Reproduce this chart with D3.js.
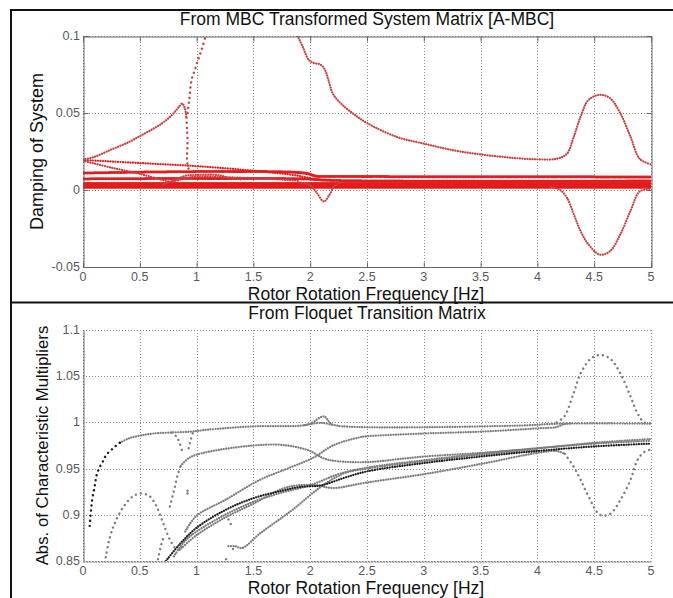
<!DOCTYPE html>
<html>
<head>
<meta charset="utf-8">
<script src="https://cdn.jsdelivr.net/npm/d3@7"></script>
<style>
  body { margin: 0; background: #fff; }
  text { font-family: "Liberation Sans", Arial, sans-serif; }
</style>
</head>
<body>
<script>
// ---- shared axis data ----
const xTicks = [0, 0.5, 1, 1.5, 2, 2.5, 3, 3.5, 4, 4.5, 5];
const xTickLabels = ["0", "0.5", "1", "1.5", "2", "2.5", "3", "3.5", "4", "4.5", "5"];
const yTicksTop = [-0.05, 0, 0.05, 0.1];
const yTickLabelsTop = ["-0.05", "0", "0.05", "0.1"];
const yTicksBottom = [0.85, 0.9, 0.95, 1, 1.05, 1.1];
const yTickLabelsBottom = ["0.85", "0.9", "0.95", "1", "1.05", "1.1"];

// ---- top panel: damping of system, [Hz, damping] ----
const dampRise = [[0, 0.0197], [0.1, 0.0215], [0.24, 0.026], [0.4, 0.031], [0.5, 0.035], [0.6, 0.039], [0.7, 0.0435], [0.75, 0.0465], [0.8, 0.05], [0.85, 0.0545], [0.872, 0.0562], [0.897, 0.053], [0.91, 0.047]];
const dampDrop = [[0.91, 0.047], [0.915, 0.04], [0.92, 0.03], [0.915, 0.02], [0.93, 0.013]];
const dampBranch = [[0.92, 0.05], [0.935, 0.0585], [0.956, 0.0716], [0.985, 0.078], [1.015, 0.085], [1.044, 0.091], [1.08, 0.1], [1.1, 0.104]];
const dampDecay = [[1.85, 0.106], [1.89, 0.1], [1.94, 0.092], [1.985, 0.0847], [2.03, 0.0825], [2.09, 0.0815], [2.13, 0.078], [2.16, 0.0716], [2.2, 0.0625], [2.28, 0.0555], [2.38, 0.0495], [2.5, 0.0435], [2.76, 0.0345], [3, 0.0301], [3.26, 0.0258], [3.5, 0.0231], [3.76, 0.021], [4, 0.0199], [4.17, 0.0203], [4.26, 0.0236], [4.32, 0.0345], [4.38, 0.0476], [4.45, 0.0585], [4.55, 0.0618], [4.64, 0.0596], [4.73, 0.0498], [4.82, 0.0345], [4.9, 0.0203], [5, 0.0166]];
const dampNeg = [[4.12, 0.002], [4.2, 0.0], [4.26, -0.005], [4.32, -0.0157], [4.38, -0.0266], [4.45, -0.0354], [4.55, -0.042], [4.64, -0.0397], [4.73, -0.0288], [4.82, -0.0135], [4.9, -0.001], [5, 0.0007]];
const dampFlat1 = [[0, 0.011], [1.95, 0.011], [2.05, 0.009], [2.25, 0.0088], [5, 0.0085]];
const dampFlat2 = [[0, 0.0072], [1.95, 0.0072], [2.2, 0.0062], [5, 0.0058]];
const dampFlat3 = [[0, 0.0042], [5, 0.0042]];
const dampFlat4 = [[0, 0.0029], [5, 0.0029]];
const dampFlat5 = [[0, 0.0018], [5, 0.0018]];
const dampDiag1 = [[0, 0.0195], [0.5, 0.0175], [1, 0.0155], [1.5, 0.0125], [1.9, 0.0092], [2.05, 0.0065]];
const dampDiag2 = [[0, 0.019], [0.25, 0.0145], [0.5, 0.0105], [0.7, 0.0065], [0.78, 0.0055], [0.9, 0.0075], [1.0, 0.0088], [1.3, 0.0082], [1.6, 0.0074], [1.9, 0.006]];
const dampDiag3 = [[0.7, 0.0035], [0.8, 0.0062], [0.9, 0.0092], [1.0, 0.0098], [1.2, 0.0096], [1.3, 0.0075], [1.4, 0.0068]];
const dampDip = [[1.9, 0.005], [2.0, 0.003], [2.06, -0.002], [2.12, -0.0075], [2.17, -0.003], [2.22, 0.003], [2.28, 0.005]];

// ---- bottom panel: abs. of characteristic multipliers, [Hz, |mult|] ----
const absStart = [[0.059, 0.888], [0.079, 0.915], [0.103, 0.931], [0.118, 0.942], [0.141, 0.95], [0.176, 0.958], [0.206, 0.965], [0.265, 0.972], [0.324, 0.978]];
const absMain = [[0.324, 0.978], [0.41, 0.983], [0.5, 0.9856], [0.62, 0.988], [0.765, 0.989], [0.95, 0.99], [1.09, 0.992], [1.5, 0.9957], [1.91, 0.9964], [2.0, 0.9986], [2.12, 1.0065], [2.18, 0.999], [2.24, 0.9964], [3.8, 0.9964], [4.2, 0.9986], [5, 0.9986]];
const absBumpBase = [[1.95, 0.997], [2.1, 0.9995], [2.2, 0.997]];
const absHighStart = [[0.765, 0.909], [0.79, 0.921], [0.81, 0.931], [0.835, 0.944], [0.86, 0.953]];
const absHigh = [[0.86, 0.953], [0.926, 0.961], [1, 0.965], [1.206, 0.9705], [1.5, 0.975], [1.706, 0.976], [1.85, 0.974], [2, 0.969], [2.12, 0.961], [2.24, 0.958], [2.5, 0.957], [2.76, 0.96], [3, 0.963], [3.5, 0.967], [4, 0.972], [4.5, 0.978], [5, 0.982]];
const absCross = [[0.9, 0.882], [1, 0.899], [1.25, 0.916], [1.56, 0.938], [1.8, 0.95], [2.03, 0.962], [2.2, 0.975], [2.44, 0.984], [2.5, 0.985], [3, 0.988], [3.5, 0.99], [4, 0.9935], [4.17, 0.995], [4.23, 0.998], [4.3, 0.999]];
const absBundle1 = [[0.73, 0.85], [0.85, 0.868], [1, 0.886], [1.25, 0.905], [1.5, 0.918], [1.75, 0.926], [1.9, 0.93], [2.1, 0.932], [2.3, 0.94], [2.5, 0.947], [3, 0.956], [3.5, 0.963], [4, 0.969], [4.5, 0.974], [5, 0.977]];
const absBundle2 = [[0.8, 0.855], [0.9, 0.872], [1, 0.882], [1.25, 0.9], [1.5, 0.914], [1.75, 0.924], [2, 0.932], [2.25, 0.944], [2.5, 0.951], [3, 0.959], [3.5, 0.966], [4, 0.972], [4.5, 0.977], [5, 0.98]];
const absBundle3 = [[0.85, 0.862], [1, 0.878], [1.25, 0.897], [1.5, 0.912], [1.75, 0.928], [1.9, 0.932], [2.05, 0.932], [2.2, 0.929], [2.5, 0.935], [3, 0.944], [3.5, 0.955], [4, 0.967], [4.17, 0.969], [4.24, 0.966]];
const absDip = [[4.24, 0.966], [4.32, 0.952], [4.38, 0.938], [4.45, 0.92], [4.55, 0.9], [4.64, 0.901], [4.73, 0.916], [4.82, 0.938], [4.88, 0.959], [4.94, 0.968], [5, 0.9705]];
const absLow = [[1.28, 0.866], [1.34, 0.866], [1.4, 0.864], [1.56, 0.88], [1.85, 0.906], [2.09, 0.93], [2.3, 0.945], [2.5, 0.95], [3, 0.958], [3.5, 0.965], [4, 0.97]];
const absHump = [[0.2, 0.854], [0.235, 0.875], [0.28, 0.891], [0.353, 0.908], [0.44, 0.92], [0.515, 0.923], [0.588, 0.92], [0.647, 0.909], [0.706, 0.891], [0.765, 0.873], [0.82, 0.863], [0.85, 0.862]];
const absHumpLeg = [[0.66, 0.852], [0.69, 0.868], [0.71, 0.876]];
const absDrop = [[0.78, 0.989], [0.82, 0.985], [0.85, 0.978], [0.87, 0.97]];
const absRiseBack = [[0.93, 0.972], [0.95, 0.982], [0.97, 0.99]];
const absPeak = [[4.17, 1.0], [4.24, 1.007], [4.32, 1.032], [4.38, 1.053], [4.47, 1.069], [4.55, 1.073], [4.64, 1.069], [4.73, 1.053], [4.82, 1.028], [4.88, 1.01], [4.94, 1.0], [5, 0.999]];
const absStray = [[0.92, 0.926], [0.92, 0.923], [1.26, 0.852], [1.28, 0.895], [1.3, 0.89], [1.32, 0.863]];

// ---- styles of the dotted traces ----
const dotStyles = {
   band:   { width: 3.0, dash: "0.1,1.4" },
   dense:  { width: 2.2, dash: "0.1,2.4" },
   sparse: { width: 2.4, dash: "0.1,5" }
};
const RED_BAND = "#e51b1b";
const RED_CURVE = "#c94040";
const GRAY = "#7d7d7d";
const DARK = "#1e1e1e";

const topSeries = [
   { data: dampFlat1, color: RED_BAND, kind: "band" },
   { data: dampFlat2, color: RED_BAND, kind: "band" },
   { data: dampFlat3, color: RED_BAND, kind: "band" },
   { data: dampFlat4, color: RED_BAND, kind: "band" },
   { data: dampFlat5, color: RED_BAND, kind: "band" },
   { data: dampDiag1, color: RED_BAND, kind: "dense" },
   { data: dampDiag2, color: RED_CURVE, kind: "dense" },
   { data: dampDiag3, color: RED_CURVE, kind: "dense" },
   { data: dampDip, color: RED_CURVE, kind: "dense" },
   { data: dampRise, color: RED_CURVE, kind: "dense" },
   { data: dampDrop, color: RED_CURVE, kind: "sparse" },
   { data: dampBranch, color: RED_CURVE, kind: "sparse" },
   { data: dampDecay, color: RED_CURVE, kind: "dense" },
   { data: dampNeg, color: RED_CURVE, kind: "dense" }
];

const bottomSeries = [
   { data: absHigh, color: GRAY, kind: "dense" },
   { data: absHighStart, color: GRAY, kind: "sparse" },
   { data: absCross, color: GRAY, kind: "dense" },
   { data: absBundle2, color: GRAY, kind: "dense" },
   { data: absBundle3, color: GRAY, kind: "dense" },
   { data: absDip, color: GRAY, kind: "sparse" },
   { data: absLow, color: GRAY, kind: "dense" },
   { data: absBundle1, color: DARK, kind: "dense" },
   { data: absBumpBase, color: GRAY, kind: "dense" },
   { data: absMain, color: GRAY, kind: "dense" },
   { data: absStart, color: DARK, kind: "sparse" },
   { data: absHump, color: GRAY, kind: "sparse" },
   { data: absHumpLeg, color: GRAY, kind: "sparse" },
   { data: absDrop, color: GRAY, kind: "sparse" },
   { data: absRiseBack, color: GRAY, kind: "sparse" },
   { data: absPeak, color: GRAY, kind: "sparse" }
];

// ---- canvas ----
const svgWidth = 673;
const svgHeight = 598;
const svg = d3.select("body").append("svg")
              .attr("width", svgWidth)
              .attr("height", svgHeight);

// outer frame & divider
svg.append("rect").attr("x", 11).attr("y", 10).attr("width", 680).attr("height", 600)
   .attr("fill", "none").attr("stroke", "#111").attr("stroke-width", 2);
svg.append("line").attr("x1", 11).attr("x2", svgWidth).attr("y1", 302.5).attr("y2", 302.5)
   .attr("stroke", "#111").attr("stroke-width", 2);

const plotLeft = 83, plotRight = 651;

const drawPanel = (cfg) => {
   const x = d3.scaleLinear().domain([0, 5]).range([plotLeft, plotRight]);
   const y = d3.scaleLinear().domain(cfg.yDomain).range([cfg.bottom, cfg.top]);
   const g = svg.append("g");

   // clip region for the traces
   svg.append("clipPath").attr("id", cfg.id + "-clip")
      .append("rect").attr("x", plotLeft).attr("y", cfg.top)
      .attr("width", plotRight - plotLeft).attr("height", cfg.bottom - cfg.top);

   // dotted grid
   const grid = g.append("g").attr("stroke", "#8a8a8a").attr("stroke-width", 1).attr("stroke-dasharray", "1,2");
   grid.selectAll(".gx").data(xTicks).enter().append("line")
       .attr("x1", d => Math.round(x(d)) + 0.5).attr("x2", d => Math.round(x(d)) + 0.5)
       .attr("y1", cfg.top).attr("y2", cfg.bottom);
   grid.selectAll(".gy").data(cfg.yTicks).enter().append("line")
       .attr("y1", d => Math.round(y(d)) + 0.5).attr("y2", d => Math.round(y(d)) + 0.5)
       .attr("x1", plotLeft).attr("x2", plotRight);

   // traces
   const line = d3.line().x(d => x(d[0])).y(d => y(d[1])).curve(d3.curveCatmullRom.alpha(0.5));
   const traces = g.append("g").attr("clip-path", `url(#${cfg.id}-clip)`);
   traces.selectAll("path").data(cfg.series).enter().append("path")
         .attr("d", d => line(d.data))
         .attr("fill", "none")
         .attr("stroke", d => d.color)
         .attr("stroke-width", d => dotStyles[d.kind].width)
         .attr("stroke-dasharray", d => dotStyles[d.kind].dash)
         .attr("stroke-linecap", "round");
   if (cfg.stray) {
      traces.selectAll("circle").data(cfg.stray).enter().append("circle")
            .attr("cx", d => x(d[0])).attr("cy", d => y(d[1])).attr("r", 1.2).attr("fill", GRAY);
   }

   // axes box
   const xAxisB = d3.axisBottom(x).tickValues(xTicks).tickSize(cfg.box ? -5 : 0).tickFormat(() => "");
   const yAxisL = d3.axisLeft(y).tickValues(cfg.yTicks).tickSize(cfg.box ? -5 : 0).tickFormat(() => "");
   const gx = g.append("g").attr("transform", `translate(0,${cfg.bottom + 0.5})`).call(xAxisB);
   const gy = g.append("g").attr("transform", `translate(${plotLeft + 0.5},0)`).call(yAxisL);
   [gx, gy].forEach(a => a.selectAll("path, line").attr("stroke", "#666"));
   if (cfg.box) {
      const gt = g.append("g").attr("transform", `translate(0,${cfg.top + 0.5})`)
                  .call(d3.axisTop(x).tickValues(xTicks).tickSize(-5).tickFormat(() => ""));
      const gr = g.append("g").attr("transform", `translate(${plotRight + 0.5},0)`)
                  .call(d3.axisRight(y).tickValues(cfg.yTicks).tickSize(-5).tickFormat(() => ""));
      [gt, gr].forEach(a => a.selectAll("path, line").attr("stroke", "#666"));
      gx.select(".domain").attr("d", `M${plotLeft},0H${plotRight + 0.5}`);
   } else {
      gx.select(".domain").attr("stroke", "#555").attr("stroke-dasharray", "2,1");
   }

   // tick labels
   g.selectAll(".xl").data(xTicks).enter().append("text")
    .attr("x", d => x(d)).attr("y", cfg.bottom + 14)
    .attr("text-anchor", "middle").attr("font-size", 12.5).attr("fill", "#5a5a5a")
    .text((d, i) => xTickLabels[i]);
   g.selectAll(".yl").data(cfg.yTicks).enter().append("text")
    .attr("x", plotLeft - 3).attr("y", d => y(d) + 4)
    .attr("text-anchor", "end").attr("font-size", 12.5).attr("fill", "#5a5a5a")
    .text((d, i) => cfg.yLabels[i]);

   // titles
   g.append("text").attr("x", 367).attr("y", cfg.top - 11)
    .attr("text-anchor", "middle").attr("font-size", 17.5).attr("fill", "#111")
    .text(cfg.title);
   g.append("text").attr("x", 366).attr("y", cfg.bottom + 33)
    .attr("text-anchor", "middle").attr("font-size", 17.5).attr("fill", "#111")
    .text("Rotor Rotation Frequency [Hz]");
   g.append("text")
    .attr("transform", `translate(${cfg.yLabelX},${(cfg.top + cfg.bottom) / 2}) rotate(-90)`)
    .attr("text-anchor", "middle").attr("font-size", cfg.yLabelSize).attr("fill", "#111")
    .text(cfg.yTitle);
};

drawPanel({
   id: "top", top: 36, bottom: 267, yDomain: [-0.05, 0.1],
   yTicks: yTicksTop, yLabels: yTickLabelsTop, box: true,
   series: topSeries, title: "From MBC Transformed System Matrix [A-MBC]",
   yTitle: "Damping of System", yLabelX: 43, yLabelSize: 18
});

drawPanel({
   id: "bottom", top: 330, bottom: 561, yDomain: [0.85, 1.1],
   yTicks: yTicksBottom, yLabels: yTickLabelsBottom, box: false,
   series: bottomSeries, stray: absStray, title: "From Floquet Transition Matrix",
   yTitle: "Abs. of Characteristic Multipliers", yLabelX: 48, yLabelSize: 16.8
});
</script>
</body>
</html>
